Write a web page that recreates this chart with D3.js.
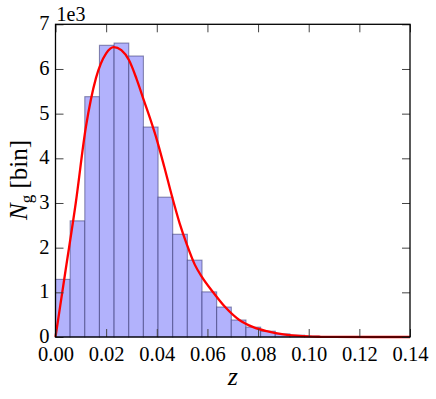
<!DOCTYPE html>
<html><head><meta charset="utf-8">
<script src="https://cdn.jsdelivr.net/npm/d3@7"></script>
<style>
body{margin:0;background:#fff;}
svg{display:block;}
</style></head>
<body><svg id="c" width="436" height="399"></svg>
<script>
// Histogram (counts in units of 1e3)
const binWidth = 0.005786;
const binCounts = [1.29, 2.60, 5.38, 6.53, 6.58, 6.29, 4.70, 3.13, 2.30, 1.72, 1.01, 0.67, 0.38, 0.22, 0.13, 0.07, 0.04, 0.02, 0.01, 0.005];
// Fitted curve
const curveZ = [0, 0.004, 0.008, 0.012, 0.016, 0.020, 0.023, 0.026, 0.029, 0.032, 0.035, 0.038, 0.040, 0.043, 0.046, 0.049, 0.052, 0.055, 0.058, 0.062, 0.067, 0.0726, 0.0781, 0.0834, 0.090, 0.095, 0.100, 0.105, 0.110, 0.140];
const curveN = [0, 1.5, 3.0, 4.7, 5.8, 6.35, 6.49, 6.42, 6.2, 5.78, 5.28, 4.78, 4.42, 3.8, 3.15, 2.55, 2.05, 1.62, 1.33, 1.02, 0.67, 0.38, 0.22, 0.13, 0.06, 0.03, 0.012, 0.005, 0.001, 0];
const xTicks = [0, 0.02, 0.04, 0.06, 0.08, 0.10, 0.12, 0.14];
const yTicks = [0, 1, 2, 3, 4, 5, 6, 7];

const FONT = "'Liberation Serif', 'Times New Roman', Times, serif";
const L = 55.5, R = 410, T = 24.3, B = 337;
const svg = d3.select("#c");
const x = d3.scaleLinear().domain([0, 0.14]).range([L, R]);
const y = d3.scaleLinear().domain([0, 7]).range([B, T]);

const bins = binCounts.map((v, i) => ({x0: i * binWidth, x1: (i + 1) * binWidth, v}));
svg.append("g").selectAll("rect").data(bins).join("rect")
  .attr("x", d => x(d.x0)).attr("width", d => x(d.x1) - x(d.x0))
  .attr("y", d => y(d.v)).attr("height", d => y(0) - y(d.v))
  .attr("fill", "rgb(178,178,252)")
  .attr("stroke", "rgba(40,40,100,0.5)").attr("stroke-width", 1.1);

const line = d3.line().x((d, i) => x(curveZ[i])).y(d => y(d)).curve(d3.curveMonotoneX);
svg.append("path").datum(curveN).attr("d", line)
  .attr("fill", "none").attr("stroke", "#ff0000").attr("stroke-width", 2.3)
  .attr("stroke-linejoin", "round");

// Axes with inward ticks
const fmtX = d3.format(".2f");
const gB = svg.append("g").attr("transform", `translate(0,${B})`)
  .call(d3.axisBottom(x).tickValues(xTicks).tickFormat(fmtX).tickSize(-8).tickPadding(9));
const gT = svg.append("g").attr("transform", `translate(0,${T})`)
  .call(d3.axisTop(x).tickValues(xTicks).tickFormat("").tickSize(-8));
const gL = svg.append("g").attr("transform", `translate(${L},0)`)
  .call(d3.axisLeft(y).tickValues(yTicks).tickFormat(d3.format("d")).tickSize(-8).tickPadding(6));
const gR = svg.append("g").attr("transform", `translate(${R},0)`)
  .call(d3.axisRight(y).tickValues(yTicks).tickFormat("").tickSize(-8));
[gB, gT, gL, gR].forEach(g => {
  g.attr("font-family", FONT).attr("font-size", 20);
  g.select(".domain").remove();
  g.selectAll(".tick line").attr("stroke", "#444").attr("stroke-width", 1);
  g.selectAll(".tick text").style("font-family", FONT).style("font-size", "20.5px").attr("fill", "#000");
});
gB.selectAll(".tick text").attr("dy", "0.72em");
gL.selectAll(".tick text").attr("dy", "0.27em");

svg.append("rect").attr("x", L).attr("y", T).attr("width", R - L).attr("height", B - T)
  .attr("fill", "none").attr("stroke", "#000").attr("stroke-width", 1.3);

svg.append("text").attr("x", L + 1).attr("y", 21).style("font-family", FONT)
  .style("font-size", "20px").text("1e3");

svg.append("text").attr("x", x(0.07)).attr("y", 385).attr("text-anchor", "middle")
  .style("font-family", FONT).style("font-size", "26px").style("font-style", "italic").text("z");

const yl = svg.append("text").attr("transform", `translate(27,180) rotate(-90)`)
  .attr("text-anchor", "middle").style("font-family", FONT).style("font-size", "25px");
yl.append("tspan").style("font-style", "italic").text("N");
yl.append("tspan").attr("dy", 5).style("font-size", "17px").text("g");
yl.append("tspan").attr("dy", -5).text(" [bin]");
</script></body></html>
